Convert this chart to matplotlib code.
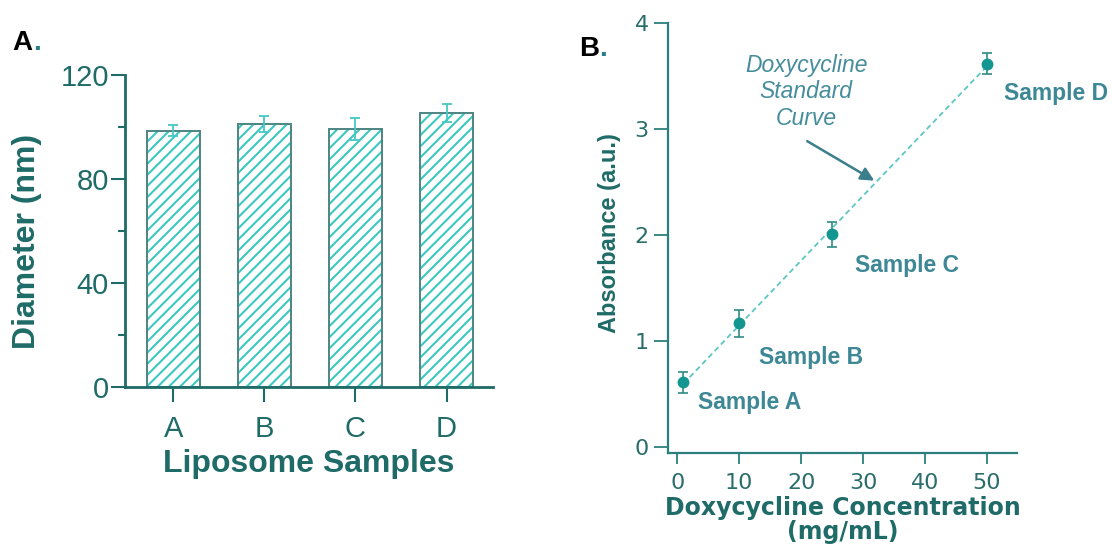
import numpy as np
import matplotlib
matplotlib.use("Agg")
import matplotlib.pyplot as plt

plt.rcParams['font.family'] = ['Liberation Sans', 'DejaVu Sans']
plt.rcParams['hatch.linewidth'] = 1.5

# Panel A data: liposome diameters
samples = ["A", "B", "C", "D"]
diameter = [98.6, 101.2, 99.2, 105.3]
diameter_err = [2.0, 3.1, 4.2, 3.5]

# Panel B data: doxycycline absorbance
conc = [1, 10, 25, 50]
absorb = [0.61, 1.166, 2.006, 3.62]
absorb_err = [0.10, 0.13, 0.115, 0.10]
point_labels = ["Sample A", "Sample B", "Sample C", "Sample D"]
label_pos = [(3.4, 0.416), (13.2, 0.84), (28.7, 1.716), (52.7, 3.34)]

dark = "#1e6b67"
cyan = "#3cc8c0"

fig = plt.figure(figsize=(11.12, 5.48), dpi=100)

# ---- Panel A ----
axA = fig.add_axes([0.1124, 0.2943, 0.3307, 0.5688])
x = np.arange(len(samples))
axA.bar(x, diameter, width=0.585, color="none", edgecolor=cyan, hatch="///", linewidth=0)
axA.bar(x, diameter, width=0.585, fill=False, edgecolor="#4d8583", linewidth=1.4)
axA.errorbar(x, diameter, yerr=diameter_err, fmt="none", ecolor="#45c8c4",
             elinewidth=1.3, capsize=3.3, capthick=1.3)
axA.set_xlim(-0.53, 3.507)
axA.set_ylim(0, 120)
axA.set_yticks([0, 40, 80, 120])
axA.set_yticks([20, 60, 100], minor=True)
axA.set_xticks(x)
axA.set_xticklabels(samples)
for s in ["top", "right"]:
    axA.spines[s].set_visible(False)
for s in ["left", "bottom"]:
    axA.spines[s].set_color(dark)
    axA.spines[s].set_linewidth(2)
axA.tick_params(axis="y", which="major", length=10, width=1.5, color=dark,
                labelsize=21, labelcolor=dark, pad=1.5)
axA.tick_params(axis="y", which="minor", length=5, width=1.5, color=dark)
axA.tick_params(axis="x", length=11, width=1.5, color=dark, labelsize=21,
                labelcolor=dark, pad=9)
axA.set_ylabel("Diameter (nm)", fontsize=23, fontweight="bold", color=dark)
axA.yaxis.set_label_coords(-0.226, 0.466)
axA.set_xlabel("Liposome Samples", fontsize=23, fontweight="bold", color=dark, labelpad=5)

fig.text(12 / 1112, 1 - 49.5 / 548, "A", fontsize=20, fontweight="bold", color="black")
fig.text(33 / 1112, 1 - 49.5 / 548, ".", fontsize=20, fontweight="bold", color="#2a7f86")

# ---- Panel B ----
axB = fig.add_axes([0.601, 0.1728, 0.3138, 0.7847])
fit = np.polyfit(conc, absorb, 1)
xl = np.array([conc[0], conc[-1]])
axB.plot(xl, np.polyval(fit, xl), linestyle=(0, (3, 2)), color="#5cc6c4", linewidth=1.3)
axB.errorbar(conc, absorb, yerr=absorb_err, fmt="o", color="#139690", markersize=7.5,
             ecolor="#2f8b86", elinewidth=1.2, capsize=3.3, capthick=1.2)
for lab, (lx, ly) in zip(point_labels, label_pos):
    axB.text(lx, ly, lab, fontsize=16.5, fontweight="bold", color="#3e8896",
             ha="left", va="center")
axB.annotate("", xy=(32.2, 2.50), xytext=(20.6, 2.90),
             arrowprops=dict(arrowstyle="-|>", color="#3b7f8c", lw=1.8,
                             mutation_scale=20))
axB.text(20.8, 3.354, "Doxycycline\nStandard\nCurve", fontsize=16.5, style="italic",
         color="#468d9c", ha="center", va="center", linespacing=1.2)
axB.set_xlim(-1.45, 54.9)
axB.set_ylim(-0.062, 4.0)
axB.set_xticks([0, 10, 20, 30, 40, 50])
axB.set_yticks([0, 1, 2, 3, 4])
for s in ["top", "right"]:
    axB.spines[s].set_visible(False)
for s in ["left", "bottom"]:
    axB.spines[s].set_color("#2b7f7c")
    axB.spines[s].set_linewidth(1.6)
axB.tick_params(axis="y", length=10, width=1.3, color="#2b7f7c", labelsize=16,
                labelcolor="#2a6e6b", pad=4)
axB.tick_params(axis="x", length=8, width=1.3, color="#2b7f7c", labelsize=16,
                labelcolor="#2a6e6b", pad=6)
for lbl in axB.get_xticklabels() + axB.get_yticklabels():
    lbl.set_family("DejaVu Sans")
axB.set_ylabel("Absorbance (a.u.)", fontsize=17, fontweight="bold", color=dark)
axB.yaxis.set_label_coords(-0.135, 0.513)
axB.set_xlabel("Doxycycline Concentration\n(mg/mL)", fontsize=17, fontweight="bold",
               color=dark, family="DejaVu Sans", linespacing=1.05, labelpad=2)

fig.text(579 / 1112, 1 - 56.5 / 548, "B", fontsize=20, fontweight="bold", color="black")
fig.text(599 / 1112, 1 - 56.5 / 548, ".", fontsize=20, fontweight="bold", color="#2a7f86")

fig.savefig("out.png", dpi=100)
